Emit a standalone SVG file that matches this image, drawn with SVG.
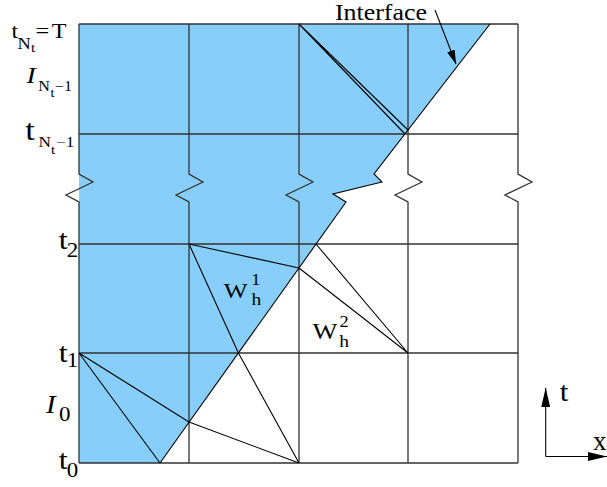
<svg xmlns="http://www.w3.org/2000/svg" width="607" height="487" viewBox="0 0 607 487">
<defs>
<style>
.grid{fill:none;stroke:#333;stroke-width:1.3}
.edge{fill:none;stroke:#000;stroke-width:1.1}
.lbl{font-family:"Liberation Serif","Times New Roman",serif;fill:#000}
.it{font-style:italic}
</style>
<marker id="ah" viewBox="0 0 14 8" refX="14" refY="4" markerWidth="14" markerHeight="8" markerUnits="userSpaceOnUse" orient="auto">
<path d="M0,0 L14,4 L0,8 Z" fill="#000"/>
</marker>
<marker id="ah2" viewBox="0 0 19 9" refX="19" refY="4.5" markerWidth="19" markerHeight="9" markerUnits="userSpaceOnUse" orient="auto">
<path d="M0,0 L19,4.5 L0,9 Z" fill="#000"/>
</marker>
</defs>
<g id="fluid-region">
<path d="M79,24 L490,24 L374,174 L382,182 L333,194 L346,202 L160,463 L79,463 Z" fill="#87CEFA"/>
</g>
<g id="grid">
<path class="grid" d="M79,24 H518 M79,134 H518 M79,244 H518 M79,353 H518 M79,463 H518"/>
<path class="grid" d="M79,24 V174 L93,182 L66,195 L79,202 V463"/>
<path class="grid" d="M189,24 V174 L203,182 L176,195 L189,202 V463"/>
<path class="grid" d="M299,24 V174 L313,182 L286,195 L299,202 V463"/>
<path class="grid" d="M408,24 V174 L422,182 L395,195 L408,202 V463"/>
<path class="grid" d="M518,24 V174 L532,182 L505,195 L518,202 V463"/>
</g>
<g id="connectors">
<path id="interface" class="edge" d="M490,24 L374,174 L382,182 L333,194 L346,202 L160,463"/>
<path class="edge" d="M299,24 L408,130 M299,24 L405,134"/>
<path class="edge" d="M189,244 L299,268 M189,244 L238.4,353 M316,244 L408,353 M299,268 L408,353"/>
<path class="edge" d="M79,353 L160,463 M79,353 L189,422 M189,422 L299,463 M238.4,353 L299,463"/>
<path class="edge" d="M435,10 L456,64" marker-end="url(#ah)"/>
<path class="edge" d="M545.7,456.5 L545.7,388" marker-end="url(#ah2)"/>
<path class="edge" d="M545.7,456.5 L607,456.5" marker-end="url(#ah2)"/>
</g>
<g id="labels" transform="scale(1.15,1)">
<text class="lbl" x="291.3" y="19.5" font-size="22.5">Interface</text>
<g id="lbl-tNt">
<text class="lbl" x="10" y="37.7" font-size="21">t</text>
<text class="lbl" x="15.2" y="48.7" font-size="16">N</text>
<text class="lbl" x="27" y="51.7" font-size="13">t</text>
<text class="lbl" x="30.8" y="37.7" font-size="21">=</text>
<text class="lbl" x="45" y="37.7" font-size="21">T</text>
</g>
<g id="lbl-INt1">
<text class="lbl it" x="23" y="83" font-size="24">I</text>
<text class="lbl" x="33.2" y="91" font-size="14">N</text>
<text class="lbl" x="44" y="97" font-size="12">t</text>
<text class="lbl" x="47.8" y="91" font-size="14">−1</text>
</g>
<g id="lbl-tNt1">
<text class="lbl" x="22" y="140" font-size="30">t</text>
<text class="lbl" x="33.5" y="147" font-size="15">N</text>
<text class="lbl" x="44.4" y="154" font-size="13">t</text>
<text class="lbl" x="48.8" y="147" font-size="15">−1</text>
</g>
<g id="lbl-t2">
<text class="lbl" x="51" y="249.5" font-size="28">t</text>
<text class="lbl" x="58" y="257" font-size="20">2</text>
</g>
<g id="lbl-t1">
<text class="lbl" x="51" y="361.7" font-size="28">t</text>
<text class="lbl" x="58" y="367.5" font-size="20">1</text>
</g>
<g id="lbl-I0">
<text class="lbl it" x="40" y="413.3" font-size="25">I</text>
<text class="lbl" x="51.4" y="420.7" font-size="20">0</text>
</g>
<g id="lbl-t0">
<text class="lbl" x="51" y="469.5" font-size="28">t</text>
<text class="lbl" x="58" y="477" font-size="20">0</text>
</g>
<g id="lbl-W1">
<text class="lbl" x="194.5" y="298.3" font-size="22">W</text>
<text class="lbl" x="218.7" y="305" font-size="17">h</text>
<text class="lbl" x="218.5" y="285" font-size="16">1</text>
</g>
<g id="lbl-W2">
<text class="lbl" x="271.7" y="339.3" font-size="23">W</text>
<text class="lbl" x="295" y="347.3" font-size="17">h</text>
<text class="lbl" x="295.2" y="326.7" font-size="16">2</text>
</g>
<text class="lbl" x="486.7" y="401" font-size="27">t</text>
</g>
<text class="lbl" x="593" y="450" font-size="27">x</text>
</svg>
